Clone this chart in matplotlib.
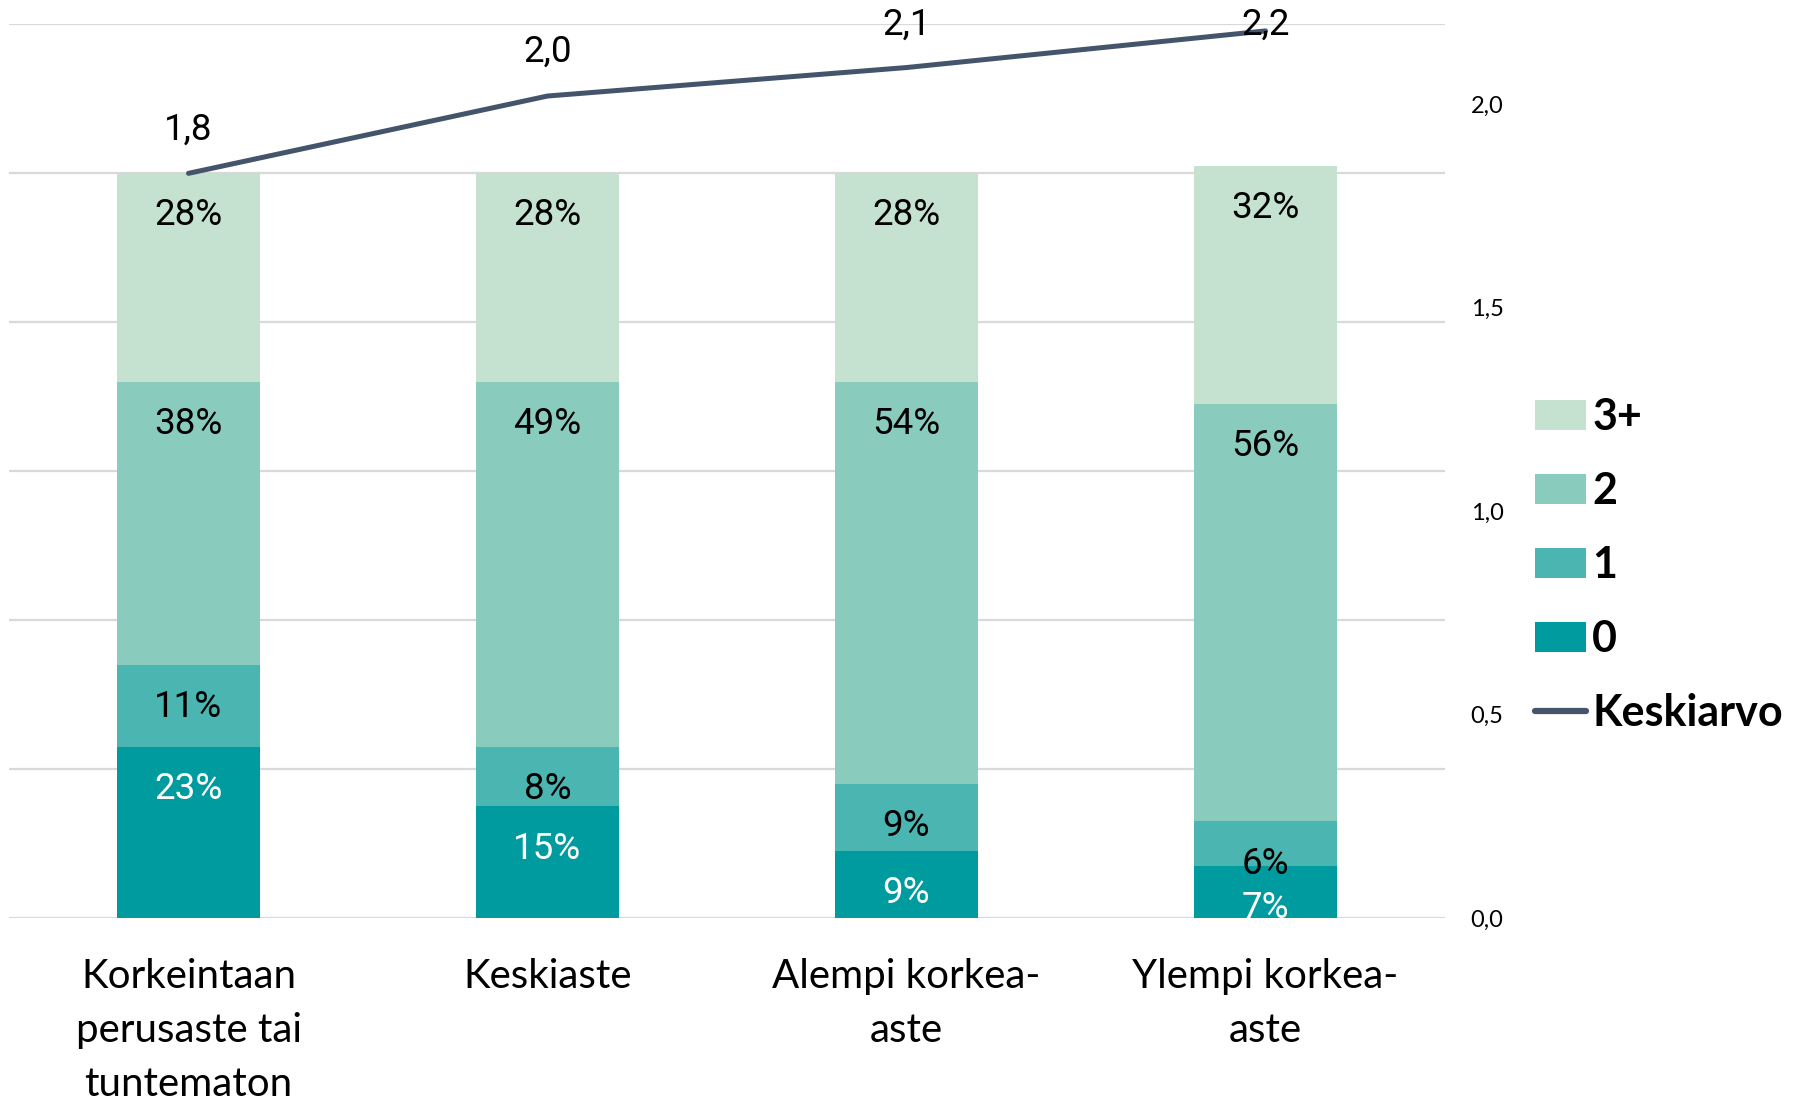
import matplotlib
matplotlib.use("Agg")
import matplotlib.pyplot as plt
from matplotlib.patches import Patch
from matplotlib.lines import Line2D
from matplotlib.ticker import FuncFormatter

categories = ["Korkeintaan\nperusaste tai\ntuntematon", "Keskiaste",
              "Alempi korkea-\naste", "Ylempi korkea-\naste"]
series_names = ["0", "1", "2", "3+"]
share_0 = [23, 15, 9, 7]
share_1 = [11, 8, 9, 6]
share_2 = [38, 49, 54, 56]
share_3 = [28, 28, 28, 32]
mean_values = [1.83, 2.02, 2.09, 2.18]
mean_labels = ["1,8", "2,0", "2,1", "2,2"]
mean_name = "Keskiarvo"

colors = ["#009b9e", "#4ab5b1", "#89ccbe", "#c4e2cf"]
text_colors = ["white", "black", "black", "black"]
line_color = "#44546a"
grid_color = "#d9d9d9"

W, H, DPI = 1794, 1105, 100
fig = plt.figure(figsize=(W / DPI, H / DPI), dpi=DPI)
ax_l, ax_r, ax_t, ax_b = 9, 1445, 24, 918
ax = fig.add_axes([ax_l / W, 1 - ax_b / H, (ax_r - ax_l) / W, (ax_b - ax_t) / H])

label_font = ["Liberation Sans Narrow", "Roboto", "DejaVu Sans"]
cat_font = ["Lato", "DejaVu Sans"]

x = list(range(len(categories)))
series = [share_0, share_1, share_2, share_3]
bottoms = [0] * len(categories)
handles = []
for vals, col, tcol, name in zip(series, colors, text_colors, series_names):
    ax.bar(x, vals, width=0.4, bottom=bottoms, color=col, edgecolor="none", zorder=2)
    for xi, v, b in zip(x, vals, bottoms):
        t = ax.annotate(f"{v:.0f}%", xy=(xi, b + v), xytext=(0, -30.5),
                        textcoords="offset points", ha="center", va="center",
                        fontsize=26.5, color=tcol, family=label_font, zorder=3)
        t.set_clip_box(ax.bbox)
        t.set_clip_on(True)
    bottoms = [b + v for b, v in zip(bottoms, vals)]
    handles.append(Patch(facecolor=col, edgecolor="none", label=name))

ax.set_xlim(-0.5, len(categories) - 0.5)
ax.set_ylim(0, 120)
ax.set_yticks(range(0, 121, 20))
ax.yaxis.grid(True, color=grid_color, linewidth=1.6)
ax.set_axisbelow(True)
ax.set_xticks(x)
ax.set_xticklabels(categories, fontsize=29, family=cat_font, linespacing=1.57)
for s in ax.spines.values():
    s.set_visible(False)

ax2 = ax.twinx()
ax2.set_ylim(0, 2.197)
ax2.plot(x, mean_values, color=line_color, linewidth=3.6, solid_capstyle="round",
         solid_joinstyle="round", zorder=5)
ax2.set_yticks([0, 0.5, 1.0, 1.5, 2.0])
ax2.yaxis.set_major_formatter(FuncFormatter(lambda v, p: f"{v:.1f}".replace(".", ",")))
ax2.tick_params(axis="y", right=False, left=False, pad=15, labelsize=17)
for lab in ax2.get_yticklabels():
    lab.set_family(cat_font)
for s in ax2.spines.values():
    s.set_visible(False)
ax.tick_params(axis="y", left=False, right=False, labelleft=False)
ax.tick_params(axis="x", bottom=False, pad=25)

fig.canvas.draw()
for xi, v, lab in zip(x, mean_values, mean_labels):
    px, py = ax2.transData.transform((xi, v))
    ly = min(py + 44, H - 25)
    fig.text(px / W, ly / H, lab, ha="center", va="center", fontsize=26.5,
             family=label_font, color="black", zorder=6)

handles = handles[::-1]
handles.append(Line2D([0], [0], color=line_color, linewidth=4.5,
                      solid_capstyle="round", label=mean_name))
leg = fig.legend(handles=handles, loc="upper left",
                 bbox_to_anchor=(1535 / W, 1 - 397 / H),
                 frameon=False, borderpad=0, borderaxespad=0,
                 handlelength=1.19, handleheight=0.67, handletextpad=0.14,
                 labelspacing=0.79,
                 prop={"family": ["Lato", "DejaVu Sans"], "weight": "bold", "size": 31})

fig.savefig("out.png", dpi=DPI)
